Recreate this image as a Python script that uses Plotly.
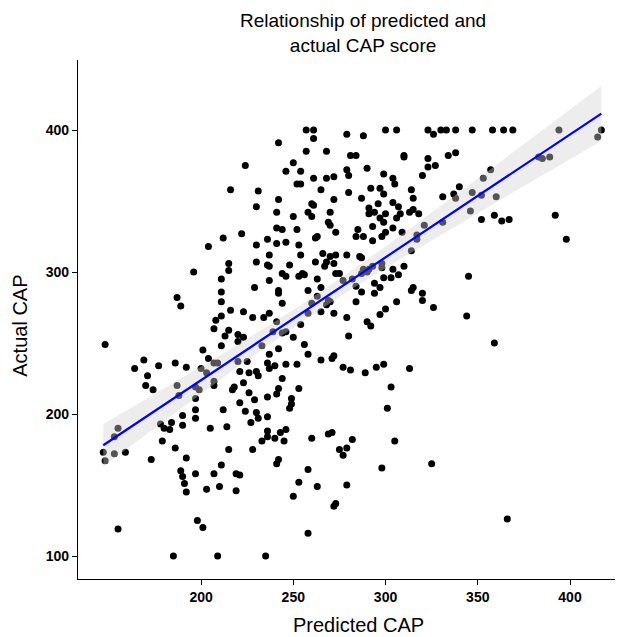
import numpy as np
import plotly.graph_objects as go

# Predicted CAP (x) and Actual CAP (y)
predicted = [
    224, 216, 231, 230, 222,
    242, 257, 261, 261, 279, 288, 300, 306, 323, 330, 326, 257, 268, 281, 284, 310, 310, 323,
    250, 246, 254, 323, 327, 279, 280, 290, 261, 268, 272, 299, 304, 320, 252, 254, 305, 265,
    292, 297, 299, 314, 280, 287, 315, 242, 272, 331, 260, 261, 296, 304, 307, 291, 241, 250,
    258, 260, 270, 291, 294, 300, 308, 313, 315, 318, 297, 299, 306, 269, 270, 241, 244, 252,
    273, 285, 293, 304, 300, 309, 321, 331,
    333, 338, 347, 358, 364, 369, 394, 417, 415, 334, 338, 383, 385, 389, 357, 353, 340, 337,
    338, 347, 352, 360, 346, 352, 359, 363, 367, 392,
    212, 204, 230, 236, 215, 215, 230, 236, 237, 196, 211, 237, 229, 211, 187, 211, 189, 216,
    223, 228, 234, 237, 211, 208, 207, 215, 213, 220, 223, 220, 148,
    241, 246, 253, 262, 263, 284, 288, 293, 298, 317, 317, 314, 254, 266, 237, 248, 262, 268,
    270, 273, 279, 286, 287, 272, 267, 288, 291, 293, 298, 298, 287, 290, 304, 310, 244, 246,
    253, 255, 256, 273, 275, 263, 277, 282, 294, 299, 303, 307, 242, 242, 258, 265, 284, 297,
    287, 314, 315, 320, 263, 269, 268, 270, 260, 294, 320, 244, 284, 306, 326, 258, 265, 272,
    300, 297, 279, 241, 254, 290, 292, 239, 246, 244, 250, 280,
    398, 345, 344, 359,
    201, 211, 233, 237, 169, 164, 177, 186, 192, 204, 207, 209, 200, 203, 220, 225, 221, 226,
    230, 231, 236, 171, 207, 207, 223, 170, 174, 187, 197, 199, 218, 217, 226, 188, 197, 221,
    229, 236, 197, 212, 224, 230, 231, 236, 197, 190, 178, 184, 190, 180, 183, 205, 214, 227,
    236, 155, 153, 179, 233, 186, 215, 228, 147, 153, 159,
    242, 256, 258, 272, 271, 265, 240, 237, 246, 252, 277, 281, 289, 295, 299, 313, 244, 242,
    241, 253, 303, 249, 249, 248, 301, 240, 243, 246, 245, 260, 269, 271, 282, 305, 275, 279,
    277, 236,
    148, 173, 192, 211, 189, 197, 207, 219, 221, 190, 191, 192, 203, 210, 219, 198, 201, 155,
    185, 209, 235,
    242, 241, 258, 298, 325, 253, 263, 279, 250, 273, 272, 258,
    366,
]
actual = [
    375, 358, 357, 346, 327,
    391, 400, 400, 394, 397, 396, 400, 400, 400, 400, 397, 385, 385, 382, 382, 382, 381, 380,
    377, 371, 371, 374, 375, 372, 368, 373, 366, 366, 367, 369, 366, 368, 362, 362, 362, 358,
    359, 359, 355, 358, 356, 352, 352, 351, 351, 353, 348, 347, 348, 349, 346, 345, 342, 339,
    342, 339, 342, 341, 342, 341, 341, 342, 344, 341, 338, 335, 338, 335, 333, 331, 330, 330,
    328, 330, 332, 331, 328, 328, 333, 335,
    400, 400, 400, 400, 400, 400, 400, 400, 395, 382, 384, 381, 380, 381, 372, 366, 360, 355,
    352, 356, 354, 353, 343, 337, 340, 336, 337, 340,
    324, 318, 319, 323, 306, 301, 307, 305, 312, 300, 295, 294, 289, 286, 282, 279, 276, 273,
    272, 268, 268, 271, 269, 266, 260, 259, 255, 256, 254, 251, 249,
    320, 321, 319, 324, 325, 325, 325, 322, 325, 326, 323, 315, 312, 313, 304, 305, 307, 307,
    311, 312, 312, 311, 310, 306, 304, 302, 302, 304, 306, 303, 299, 300, 302, 304, 299, 297,
    297, 299, 298, 299, 299, 295, 294, 295, 292, 296, 296, 298, 287, 285, 287, 289, 290, 289,
    286, 287, 289, 285, 283, 280, 277, 279, 278, 285, 280, 278, 279, 279, 275, 271, 272, 271,
    274, 270, 268, 265, 263, 265, 262, 258, 258, 257, 254, 255,
    323, 297, 269, 250,
    245, 248, 248, 242, 238, 232, 234, 236, 233, 239, 236, 236, 232, 229, 237, 237, 230, 229,
    230, 227, 236, 227, 223, 220, 222, 220, 217, 220, 219, 217, 219, 217, 215, 213, 211, 208,
    210, 212, 203, 203, 202, 201, 197, 198, 197, 199, 193, 194, 192, 190, 189, 190, 191, 194,
    188, 190, 184, 181, 181, 176, 175, 175, 173, 172, 173,
    246, 249, 242, 241, 239, 238, 234, 232, 235, 235, 233, 231, 229, 233, 235, 232, 225, 218,
    214, 218, 219, 211, 207, 204, 204, 183, 187, 189, 181, 183, 186, 187, 182, 181, 175, 176,
    171, 184,
    167, 168, 169, 164, 160, 158, 158, 158, 157, 156, 151, 145, 147, 149, 146, 125, 120, 119,
    100, 100, 100,
    168, 165, 161, 162, 165, 152, 149, 150, 142, 137, 135, 116,
    126,
]

x_ticks = [200, 250, 300, 350, 400]
y_ticks = [100, 200, 300, 400]

x = np.array(predicted, dtype=float)
y = np.array(actual, dtype=float)
n = len(x)

# Linear fit with 95% confidence band (like geom_smooth(method = "lm"))
slope, intercept = np.polyfit(x, y, 1)
resid = y - (intercept + slope * x)
s = np.sqrt(np.sum(resid ** 2) / (n - 2))
xbar = x.mean()
sxx = np.sum((x - xbar) ** 2)
t_crit = 1.966
xs = np.linspace(x.min(), x.max(), 80)
ys = intercept + slope * xs
se = s * np.sqrt(1.0 / n + (xs - xbar) ** 2 / sxx)
lo = ys - t_crit * se
hi = ys + t_crit * se

FONT = "Liberation Sans, Arial, sans-serif"

fig = go.Figure()
fig.add_trace(go.Scatter(
    x=x, y=y, mode="markers",
    marker=dict(color="black", size=7, line=dict(width=0)),
    showlegend=False, hoverinfo="skip"))
fig.add_trace(go.Scatter(
    x=xs, y=lo, mode="lines", line=dict(width=0, color="rgba(0,0,0,0)"),
    showlegend=False, hoverinfo="skip"))
fig.add_trace(go.Scatter(
    x=xs, y=hi, mode="lines", line=dict(width=0, color="rgba(0,0,0,0)"),
    fill="tonexty", fillcolor="rgba(210,210,210,0.4)",
    showlegend=False, hoverinfo="skip"))
fig.add_trace(go.Scatter(
    x=xs, y=ys, mode="lines", line=dict(color="#0000FF", width=2.2),
    showlegend=False, hoverinfo="skip"))

axis_common = dict(
    showgrid=False, zeroline=False, showline=True, linecolor="black", linewidth=1.2,
    ticks="outside", ticklen=5, tickwidth=1.2, tickcolor="black",
    tickfont=dict(family=FONT, size=14, color="black", weight="bold"),
)

fig.update_xaxes(range=[133.3, 427.1], tickvals=x_ticks,
                 ticktext=[str(v) for v in x_ticks], **axis_common)
fig.update_yaxes(range=[83.8, 449.3], tickvals=y_ticks,
                 ticktext=[str(v) for v in y_ticks], **axis_common)

fig.update_layout(
    width=615, height=629,
    margin=dict(l=70, r=3, t=52, b=58),
    paper_bgcolor="white", plot_bgcolor="white",
    annotations=[
        dict(text="Relationship of predicted and<br>actual CAP score",
             x=0.526, y=1.052, xref="paper", yref="paper",
             xanchor="center", yanchor="middle", showarrow=False,
             font=dict(family=FONT, size=19, color="black")),
        dict(text="Predicted CAP", x=0.517, y=-0.089, xref="paper", yref="paper",
             xanchor="center", yanchor="middle", showarrow=False,
             font=dict(family=FONT, size=20, color="black")),
        dict(text="Actual CAP", x=-0.107, y=0.488, xref="paper", yref="paper",
             xanchor="center", yanchor="middle", showarrow=False, textangle=-90,
             font=dict(family=FONT, size=20, color="black")),
    ],
)

fig.write_html("out.html")
